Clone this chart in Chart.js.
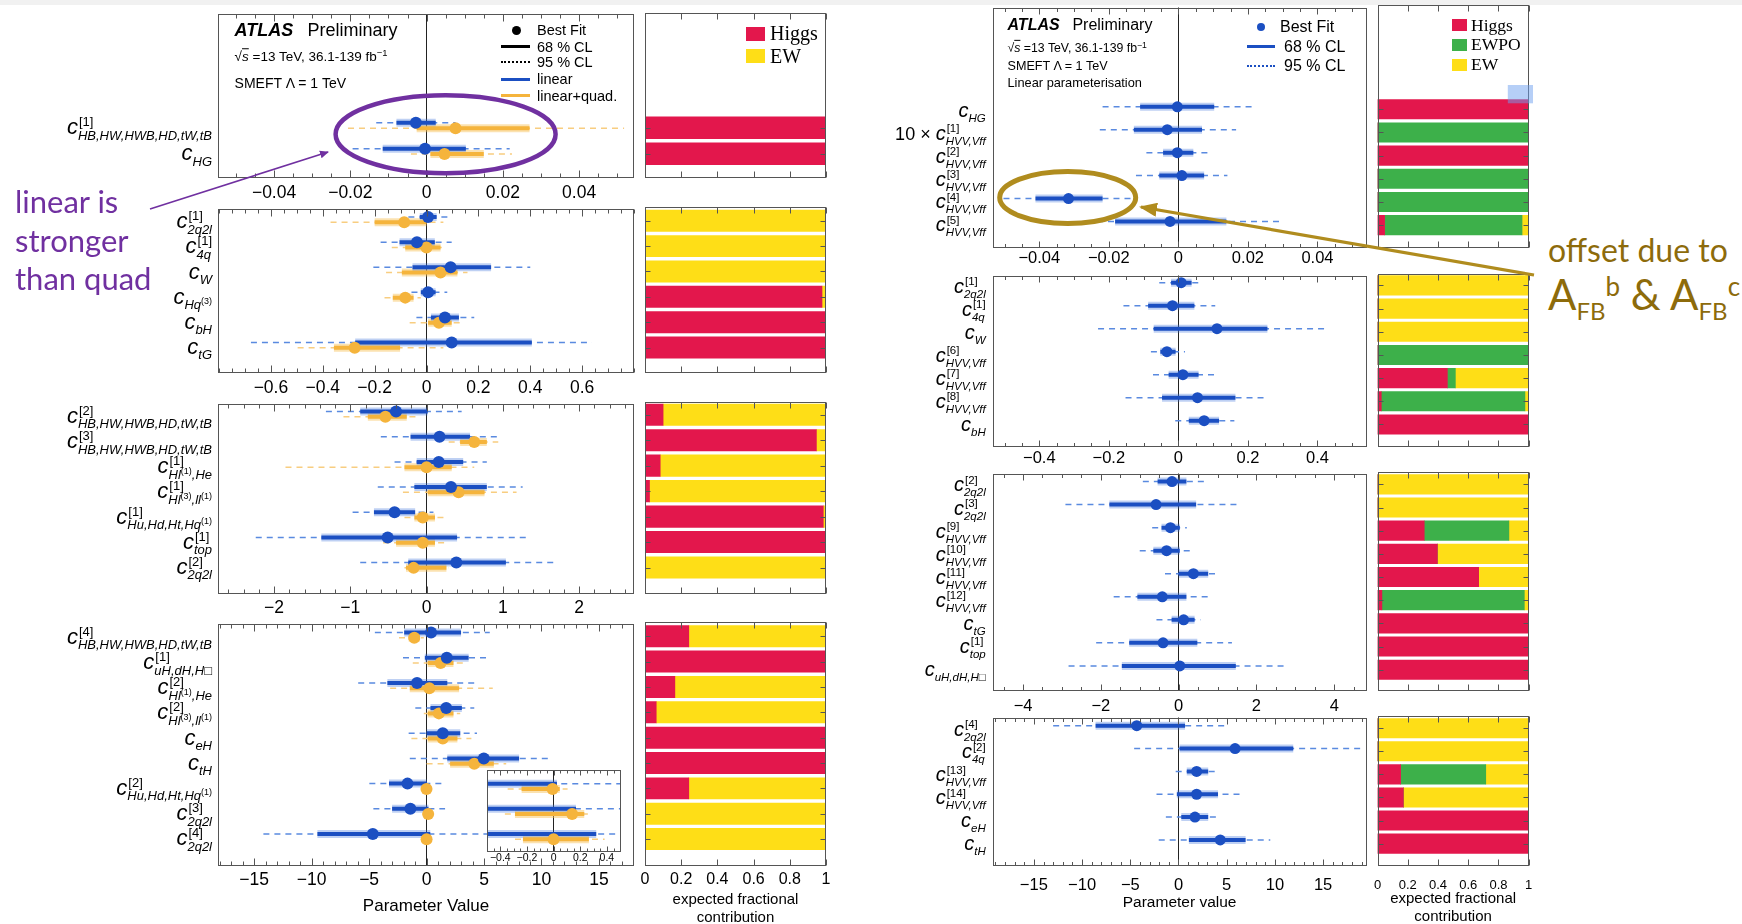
<!DOCTYPE html>
<html>
<head>
<meta charset="utf-8">
<title>SMEFT fit summary</title>
<script src="https://cdn.jsdelivr.net/npm/chart.js@4.4.1/dist/chart.umd.min.js"></script>
<style>
  html, body { margin: 0; padding: 0; background: #fff; }
  body { position: relative; width: 1742px; height: 924px; overflow: hidden; font-family: 'Liberation Sans', Arial, sans-serif; color: #000; }
  canvas { position: absolute; }
  .t { position: absolute; line-height: 1; white-space: nowrap; transform: translateY(-50%); z-index: 5; }
  .m { position: absolute; z-index: 5; }
  .serif { font-family: 'Liberation Serif', 'Times New Roman', serif; }
  .sp { position: relative; top: -0.45em; font-size: 0.7em; }
  .ov { text-decoration: overline; font-style: italic; }
  #topband { position: absolute; left: 0; top: 0; width: 1742px; height: 5px; background: #f1f1f1; }
  svg { position: absolute; left: 0; top: 0; z-index: 10; }
  .note { position: absolute; font-family: Lato, 'Open Sans', sans-serif; white-space: nowrap; z-index: 10; }
</style>
</head>
<body>
<div id="topband"></div>

<!-- left column, top panel header -->
<div class="t" style="left:234.6px;top:30px;font-size:18px;font-weight:bold;font-style:italic">ATLAS</div>
<div class="t" style="left:307.5px;top:30px;font-size:18px">Preliminary</div>
<div class="t" style="left:234.6px;top:56.7px;font-size:13.5px">√<span class="ov">s</span> =13 TeV, 36.1-139 fb<span class="sp">−1</span></div>
<div class="t" style="left:234.6px;top:82.7px;font-size:14px">SMEFT Λ = 1 TeV</div>
<div class="m" style="left:512.3px;top:25.5px;width:9px;height:9px;border-radius:50%;background:#000"></div>
<div class="m" style="left:501px;top:45.2px;width:29px;height:3px;background:#000"></div>
<div class="m" style="left:501px;top:61.3px;width:29px;border-top:2px dotted #000"></div>
<div class="m" style="left:501px;top:77.5px;width:29px;height:3px;background:#1b4fc2"></div>
<div class="m" style="left:501px;top:94.2px;width:29px;height:3px;background:#f5b43c"></div>
<div class="t" style="left:537px;top:30px;font-size:14.5px">Best Fit</div>
<div class="t" style="left:537px;top:46.7px;font-size:14.5px">68 % CL</div>
<div class="t" style="left:537px;top:62.3px;font-size:14.5px">95 % CL</div>
<div class="t" style="left:537px;top:79px;font-size:14.5px">linear</div>
<div class="t" style="left:537px;top:95.7px;font-size:14.5px">linear+quad.</div>
<div class="m" style="left:746px;top:26.5px;width:19px;height:14px;background:#e3174c"></div>
<div class="m" style="left:746px;top:49px;width:19px;height:14px;background:#fede17"></div>
<div class="t serif" style="left:770px;top:33.3px;font-size:20px">Higgs</div>
<div class="t serif" style="left:770px;top:56px;font-size:20px">EW</div>

<!-- right column, top panel header -->
<div class="t" style="left:1007.5px;top:25px;font-size:16px;font-weight:bold;font-style:italic">ATLAS</div>
<div class="t" style="left:1072.4px;top:25px;font-size:16px">Preliminary</div>
<div class="t" style="left:1007.5px;top:47.7px;font-size:12.3px">√<span class="ov">s</span> =13 TeV, 36.1-139 fb<span class="sp">−1</span></div>
<div class="t" style="left:1007.5px;top:66px;font-size:12.6px">SMEFT Λ = 1 TeV</div>
<div class="t" style="left:1007.5px;top:83.3px;font-size:12.8px">Linear parameterisation</div>
<div class="m" style="left:1257px;top:22.7px;width:8px;height:8px;border-radius:50%;background:#1b4fc2"></div>
<div class="m" style="left:1247px;top:45.2px;width:28px;height:3px;background:#1b4fc2"></div>
<div class="m" style="left:1247px;top:64.7px;width:28px;border-top:2px dotted #1b4fc2"></div>
<div class="t" style="left:1280px;top:26.7px;font-size:16px">Best Fit</div>
<div class="t" style="left:1284px;top:46.7px;font-size:16px">68 % CL</div>
<div class="t" style="left:1284px;top:65.7px;font-size:16px">95 % CL</div>
<div class="m" style="left:1451.7px;top:19px;width:15.5px;height:12px;background:#e3174c"></div>
<div class="m" style="left:1451.7px;top:39.3px;width:15.5px;height:12px;background:#3db04a"></div>
<div class="m" style="left:1451.7px;top:59.3px;width:15.5px;height:12px;background:#fede17"></div>
<div class="t serif" style="left:1471px;top:26px;font-size:17.5px">Higgs</div>
<div class="t serif" style="left:1471px;top:45px;font-size:17.5px">EWPO</div>
<div class="t serif" style="left:1471px;top:65px;font-size:17.5px">EW</div>

<!-- slide annotations -->
<div class="note" style="left:15px;top:182px;font-size:31px;line-height:38.5px;color:#7030a0">linear is<br>stronger<br>than quad</div>
<div class="note" style="left:1548px;top:234px;font-size:32px;line-height:1;color:#8d6b0b">offset due to</div>
<div class="note" style="left:1548px;top:273px;font-size:42px;line-height:1;color:#8d6b0b">A<span style="font-size:24px;position:relative;top:10px">FB</span><span style="font-size:26px;position:relative;top:-14px">b</span> &amp; A<span style="font-size:24px;position:relative;top:10px">FB</span><span style="font-size:26px;position:relative;top:-14px">c</span></div>
<svg width="1742" height="924">
  <defs>
    <marker id="ap" markerWidth="10" markerHeight="10" refX="8" refY="5" orient="auto" markerUnits="userSpaceOnUse"><path d="M0,1 L9,5 L0,9 z" fill="#7030a0"/></marker>
    <marker id="ag" markerWidth="18" markerHeight="14" refX="16" refY="7" orient="auto" markerUnits="userSpaceOnUse"><path d="M0,0 L18,7 L0,14 z" fill="#b08c1e"/></marker>
  </defs>
  <ellipse cx="445.6" cy="134.2" rx="110" ry="39" fill="none" stroke="#7030a0" stroke-width="4.5"/>
  <line x1="150" y1="209" x2="328" y2="152" stroke="#7030a0" stroke-width="1.6" marker-end="url(#ap)"/>
  <ellipse cx="1067.7" cy="197.5" rx="68" ry="26" fill="none" stroke="#b08c1e" stroke-width="5"/>
  <line x1="1534" y1="275" x2="1141" y2="207" stroke="#b08c1e" stroke-width="3.2" marker-end="url(#ag)"/>
  <rect x="1507.8" y="85" width="25.2" height="18.3" fill="rgba(110,160,240,0.5)"/>
</svg>

<script>
// ---------- data ----------
// each row: [best fit, 68% low, 68% high, 95% low, 95% high]
const HB = 'HB,HW,HWB,HD,tW,tB';
const HVV = 'HVV,Vff';

// left column: linear (blue) and linear+quadratic (orange)
const L1_LABELS = [{ sup: '[1]', sub: HB }, { sub: 'HG' }];
const L1_LIN = [[-0.0028, -0.0079, 0.0024, -0.0132, 0.0076], [-0.0004, -0.0115, 0.0103, -0.0194, 0.0218]];
const L1_QUAD = [[0.0076, -0.0026, 0.027, -0.0206, 0.0518], [0.0047, 0.001, 0.015, -0.0041, 0.0224]];
const L1_HIGGS = [1, 1];
const L1_EW = [0, 0];

const L2_LABELS = [{ sup: '[1]', sub: '2q2l' }, { sup: '[1]', sub: '4q' }, { sub: 'W' }, { sub: 'Hq^{(3)}' }, { sub: 'bH' }, { sub: 'tG' }];
const L2_LIN = [
  [0.006, -0.026, 0.039, -0.07, 0.082],
  [-0.037, -0.104, 0.032, -0.177, 0.097],
  [0.093, -0.054, 0.249, -0.205, 0.40],
  [0.006, -0.022, 0.035, -0.058, 0.08],
  [0.071, 0.017, 0.125, -0.039, 0.184],
  [0.097, -0.275, 0.406, -0.677, 0.638]
];
const L2_QUAD = [
  [-0.086, -0.20, 0.0, -0.37, 0.065],
  [0.0, -0.082, 0.054, -0.134, 0.065],
  [0.054, -0.095, 0.119, -0.156, 0.158],
  [-0.082, -0.13, -0.05, -0.162, -0.022],
  [0.048, 0.006, 0.097, -0.065, 0.13],
  [-0.277, -0.357, -0.102, -0.497, 0.065]
];
const L2_HIGGS = [0, 0, 0, 0.978, 1, 1];
const L2_EW = [1, 1, 1, 0.022, 0, 0];

const L3_LABELS = [
  { sup: '[2]', sub: HB }, { sup: '[3]', sub: HB }, { sup: '[1]', sub: 'Hl^{(1)},He' },
  { sup: '[1]', sub: 'Hl^{(3)},ll^{(1)}' }, { sup: '[1]', sub: 'Hu,Hd,Ht,Hq^{(1)}' },
  { sup: '[1]', sub: 'top' }, { sup: '[2]', sub: '2q2l' }
];
const L3_LIN = [
  [-0.40, -0.87, 0.015, -1.32, 0.46],
  [0.17, -0.21, 0.57, -0.60, 0.97],
  [0.16, -0.13, 0.48, -0.42, 0.79],
  [0.32, -0.16, 0.79, -0.64, 1.26],
  [-0.42, -0.69, -0.15, -0.97, 0.09],
  [-0.51, -1.38, 0.40, -2.24, 1.34],
  [0.39, -0.24, 1.04, -0.87, 1.69]
];
const L3_QUAD = [
  [-0.54, -0.77, -0.26, -1.09, -0.11],
  [0.625, 0.44, 0.79, 0.29, 0.94],
  [0.0, -0.29, 0.33, -1.85, 0.625],
  [0.42, 0.015, 0.76, -0.31, 1.18],
  [-0.05, -0.16, 0.11, -0.29, 0.26],
  [-0.05, -0.40, 0.11, -0.57, 0.29],
  [-0.17, -0.27, 0.26, -0.29, 0.29]
];
const L3_HIGGS = [0.10, 0.947, 0.084, 0.025, 0.985, 1, 0];
const L3_EW = [0.90, 0.053, 0.916, 0.975, 0.015, 0, 1];

const L4_LABELS = [
  { sup: '[4]', sub: HB }, { sup: '[1]', sub: 'uH,dH,H□' }, { sup: '[2]', sub: 'Hl^{(1)},He' },
  { sup: '[2]', sub: 'Hl^{(3)},ll^{(1)}' }, { sub: 'eH' }, { sub: 'tH' },
  { sup: '[2]', sub: 'Hu,Hd,Ht,Hq^{(1)}' }, { sup: '[3]', sub: '2q2l' }, { sup: '[4]', sub: '2q2l' }
];
const L4_LIN = [
  [0.39, -1.95, 3.0, -4.5, 5.5],
  [1.76, -0.15, 3.66, -2.05, 5.6],
  [-0.83, -3.41, 1.8, -5.95, 4.4],
  [1.71, 0.34, 3.07, -0.98, 4.15],
  [1.41, 0.0, 2.93, -1.56, 4.39],
  [4.98, 1.8, 8.05, -1.46, 10.8],
  [-1.66, -3.27, 0.025, -4.98, 1.61],
  [-1.41, -3.0, 0.168, -4.63, 1.61],
  [-4.68, -9.5, 0.32, -14.2, 5.46]
];
const L4_QUAD = [
  [-1.07, -1.56, -0.59, -2.4, -0.24],
  [1.22, 0.1, 2.34, -1.2, 3.4],
  [0.24, -1.46, 2.83, -3.17, 5.76],
  [1.07, 0.1, 2.34, -0.24, 2.93],
  [1.41, 0.1, 2.68, -1.32, 3.9],
  [4.15, 2.05, 5.85, 0.0, 6.93],
  [-0.008, -0.24, 0.046, -0.345, 0.105],
  [0.139, -0.29, 0.23, -0.366, 0.286],
  [0.0, -0.23, 0.265, -0.29, 0.383]
];
const L4_HIGGS = [0.242, 1, 0.165, 0.062, 1, 1, 0.242, 0, 0];
const L4_EW = [0.758, 0, 0.835, 0.938, 0, 0, 0.758, 1, 1];

// right column: linear parameterisation only
const R1_LABELS = [{ sub: 'HG' }, { pre: '10 ×', sup: '[1]', sub: HVV }, { sup: '[2]', sub: HVV }, { sup: '[3]', sub: HVV }, { sup: '[4]', sub: HVV }, { sup: '[5]', sub: HVV }];
const R1_LIN = [
  [-0.0003, -0.011, 0.0103, -0.0218, 0.0213],
  [-0.0032, -0.0128, 0.0068, -0.0226, 0.0166],
  [-0.0003, -0.0044, 0.0043, -0.0092, 0.0087],
  [0.001, -0.0055, 0.0074, -0.0122, 0.0141],
  [-0.0316, -0.0411, -0.0218, -0.0503, -0.0128],
  [-0.0024, -0.0182, 0.0138, -0.0234, 0.0292]
];
const R1_HIGGS = [1, 0, 1, 0, 0, 0.047];
const R1_EWPO = [0, 1, 0, 1, 1, 0.909];
const R1_EW = [0, 0, 0, 0, 0, 0.044];

const R2_LABELS = [{ sup: '[1]', sub: '2q2l' }, { sup: '[1]', sub: '4q' }, { sub: 'W' }, { sup: '[6]', sub: HVV }, { sup: '[7]', sub: HVV }, { sup: '[8]', sub: HVV }, { sub: 'bH' }];
const R2_LIN = [
  [0.008, -0.021, 0.038, -0.055, 0.07],
  [-0.017, -0.087, 0.046, -0.158, 0.106],
  [0.111, -0.071, 0.256, -0.231, 0.422],
  [-0.033, -0.052, -0.008, -0.079, 0.019],
  [0.013, -0.028, 0.058, -0.073, 0.103],
  [0.055, -0.047, 0.164, -0.152, 0.256],
  [0.074, 0.03, 0.117, -0.009, 0.161]
];
const R2_HIGGS = [0, 0, 0, 0, 0.462, 0.025, 1];
const R2_EWPO = [0, 0, 0, 1, 0.053, 0.95, 0];
const R2_EW = [1, 1, 1, 0, 0.485, 0.025, 0];

const R3_LABELS = [
  { sup: '[2]', sub: '2q2l' }, { sup: '[3]', sub: '2q2l' }, { sup: '[9]', sub: HVV }, { sup: '[10]', sub: HVV },
  { sup: '[11]', sub: HVV }, { sup: '[12]', sub: HVV }, { sub: 'tG' }, { sup: '[1]', sub: 'top' }, { sub: 'uH,dH,H□' }
];
const R3_LIN = [
  [-0.17, -0.54, 0.2, -0.92, 0.66],
  [-0.58, -1.78, 0.45, -2.91, 1.51],
  [-0.21, -0.44, 0.03, -0.68, 0.21],
  [-0.31, -0.65, 0.03, -1.0, 0.35],
  [0.38, 0.0, 0.76, -0.35, 1.05],
  [-0.42, -1.06, 0.2, -1.67, 0.85],
  [0.13, -0.18, 0.41, -0.57, 0.57],
  [-0.4, -1.27, 0.48, -2.12, 1.37],
  [0.03, -1.46, 1.47, -2.83, 2.78]
];
const R3_HIGGS = [0, 0, 0.309, 0.396, 0.669, 0.029, 1, 1, 1];
const R3_EWPO = [0, 0, 0.56, 0, 0, 0.942, 0, 0, 0];
const R3_EW = [1, 1, 0.131, 0.604, 0.331, 0.029, 0, 0, 0];

const R4_LABELS = [{ sup: '[4]', sub: '2q2l' }, { sup: '[2]', sub: '4q' }, { sup: '[13]', sub: HVV }, { sup: '[14]', sub: HVV }, { sub: 'eH' }, { sub: 'tH' }];
const R4_LIN = [
  [-4.33, -8.6, 0.68, -13.0, 5.25],
  [5.87, 0.11, 11.9, -4.6, 19.2],
  [1.88, 0.86, 3.08, -0.29, 4.1],
  [1.88, -0.17, 4.1, -2.28, 6.39],
  [1.71, 0.29, 3.08, -1.31, 4.28],
  [4.33, 1.08, 6.96, -2.05, 9.52]
];
const R4_HIGGS = [0, 0, 0.153, 0.171, 1, 1];
const R4_EWPO = [0, 0, 0.563, 0, 0, 0];
const R4_EW = [1, 1, 0.284, 0.829, 0, 0];

// tick labels
const TICKS_SMALL = [-0.04, -0.02, 0, 0.02, 0.04];
const TICKS_06 = [-0.6, -0.4, -0.2, 0, 0.2, 0.4, 0.6];
const TICKS_04 = [-0.4, -0.2, 0, 0.2, 0.4];
const TICKS_2 = [-2, -1, 0, 1, 2];
const TICKS_4 = [-4, -2, 0, 2, 4];
const TICKS_15 = [-15, -10, -5, 0, 5, 10, 15];
const FRAC_TICKS = [0, 0.2, 0.4, 0.6, 0.8, 1];

// ---------- layout ----------
const FONT = "'Liberation Sans', Arial, Helvetica, sans-serif";
const BLUE = { line: '#1b4fc2', halo: 'rgba(70,120,220,0.35)', dash: '#5a8ae0' };
const ORANGE = { line: '#f5b43c', halo: 'rgba(246,190,80,0.45)', dash: '#f8cd80' };
const RED = '#e3174c', GREEN = '#3db04a', YELLOW = '#fede17';

const LX = { c0: 0, c1: 640, f0: 218, f1: 634 };
const LBX = { c0: 628, c1: 842, f0: 645, f1: 826 };
const RX = { c0: 880, c1: 1372, f0: 992.7, f1: 1366.5 };
const RBX = { c0: 1362, c1: 1544, f0: 1377.5, f1: 1528.7 };
const INX = { c0: 478, c1: 630, f0: 487, f1: 621 };

const V = {
  L1: { c0: 8, c1: 205, f0: 12.7, f1: 178.3, yMin: -4.43, yMax: 1.94, pad: 4.2 },
  L2: { c0: 203, c1: 400, f0: 207.3, f1: 372.7, yMin: -0.53, yMax: 5.99, pad: 4.8 },
  L3: { c0: 398, c1: 620, f0: 401.7, f1: 594.3, yMin: -0.51, yMax: 7.05, pad: 3.5 },
  L4: { c0: 618, c1: 940, f0: 622.3, f1: 865.7, yMin: -0.55, yMax: 9.05, pad: 3.8, bpad: 4.7 },
  R1: { c0: 2, c1: 270, f0: 5, f1: 248.3, yMin: -4.5, yMax: 6.0, pad: 0.1 },
  R2: { c0: 270, c1: 470, f0: 274.3, f1: 446.7, yMin: -0.48, yMax: 6.96, pad: 1.7 },
  R3: { c0: 468, c1: 720, f0: 472.3, f1: 691, yMin: -0.52, yMax: 8.92, pad: 5.8 },
  R4: { c0: 712, c1: 940, f0: 716, f1: 866, yMin: -0.53, yMax: 5.97, pad: 9.1, bpad: 11.2 },
  IN: { c0: 764, c1: 872, f0: 769.3, f1: 851.7, yMin: 5.243, yMax: 8.5, pad: 0 }
};

const SIDE = {
  L: { tick: 17.5, linOff: -0.21, ptR: 6, gap: 6, major: 7, minorLen: 4,
       label: { c: 22, s: 13, ss: 9, p: 18, up: 8, down: 5.5, ssUp: 5 } },
  R: { tick: 16.5, linOff: -0.17, ptR: 5.5, gap: 7, major: 6, minorLen: 3.5,
       label: { c: 20, s: 11.5, ss: 8, p: 18, up: 7.5, down: 5, ssUp: 4.5 } }
};

Chart.defaults.font.family = FONT;
Chart.defaults.color = '#000';

const fmtTick = v => (v < 0 ? '\u2212' : '') + String(Math.abs(v));

function drawCoef(ctx, lab, xr, yb, st) {
  const parts = lab.sub ? lab.sub.split(/\^\{([^}]*)\}/) : [];
  const subFont = k => (k % 2 ? st.ss + 'px ' : 'italic ' + st.s + 'px ') + FONT;
  let wSub = 0;
  parts.forEach((p, k) => { ctx.font = subFont(k); wSub += ctx.measureText(p).width; });
  ctx.font = st.s + 'px ' + FONT;
  const wSup = lab.sup ? ctx.measureText(lab.sup).width + 1 : 0;
  ctx.font = 'italic ' + st.c + 'px ' + FONT;
  const wc = ctx.measureText('c').width;
  const x0 = xr - Math.max(wSub, wSup) - wc;
  ctx.fillStyle = '#000';
  ctx.textAlign = 'left';
  ctx.textBaseline = 'alphabetic';
  ctx.fillText('c', x0, yb);
  if (lab.pre) {
    ctx.font = st.p + 'px ' + FONT;
    ctx.fillText(lab.pre, x0 - ctx.measureText(lab.pre + ' ').width, yb);
  }
  if (lab.sup) {
    ctx.font = st.s + 'px ' + FONT;
    ctx.fillText(lab.sup, x0 + wc + 1, yb - st.up);
  }
  let x = x0 + wc;
  parts.forEach((p, k) => {
    ctx.font = subFont(k);
    ctx.fillText(p, x, yb + st.down - (k % 2 ? st.ssUp : 0));
    x += ctx.measureText(p).width;
  });
}

// frame, inward ticks and coefficient names
const atlasDeco = {
  id: 'atlasDeco',
  beforeDraw(chart, args, o) {
    if (!o || !o.fill) return;
    const a = chart.chartArea, ctx = chart.ctx;
    ctx.save();
    ctx.fillStyle = o.fill;
    ctx.fillRect(a.left, a.top, a.right - a.left, a.bottom - a.top);
    ctx.restore();
  },
  afterDraw(chart, args, o) {
    if (!o || !o.on) return;
    const a = chart.chartArea, ctx = chart.ctx, xs = chart.scales.x, ys = chart.scales.y;
    const L = Math.round(a.left) + 0.5, R = Math.round(a.right) - 0.5;
    const T = Math.round(a.top) + 0.5, B = Math.round(a.bottom) - 0.5;
    ctx.save();
    ctx.strokeStyle = '#555';
    ctx.lineWidth = 1;
    ctx.beginPath();
    const tick = (v, len) => {
      const px = Math.round(xs.getPixelForValue(v)) + 0.5;
      ctx.moveTo(px, B); ctx.lineTo(px, B - len);
      ctx.moveTo(px, T); ctx.lineTo(px, T + len);
    };
    if (o.minor) {
      for (let k = Math.ceil(xs.min / o.minor - 1e-9); k * o.minor <= xs.max + 1e-12; k++) tick(k * o.minor, o.minorLen);
    }
    (o.ticks || []).forEach(v => tick(v, o.major));
    for (let i = 0; i < (o.rows || 0); i++) {
      const py = Math.round(ys.getPixelForValue(i)) + 0.5;
      ctx.moveTo(L, py); ctx.lineTo(L + 5, py);
      ctx.moveTo(R, py); ctx.lineTo(R - 5, py);
    }
    ctx.stroke();
    ctx.strokeRect(L, T, R - L, B - T);
    if (o.labels) {
      o.labels.forEach((lab, i) => drawCoef(ctx, lab, a.left - o.gap, ys.getPixelForValue(i) + 6, o.style));
    }
    ctx.restore();
  }
};
Chart.register(atlasDeco);

function makeCanvas(xl, yl) {
  const c = document.createElement('canvas');
  c.width = Math.round(xl.c1 - xl.c0);
  c.height = Math.round(yl.c1 - yl.c0);
  c.style.left = xl.c0 + 'px';
  c.style.top = yl.c0 + 'px';
  c.style.width = c.width + 'px';
  c.style.height = c.height + 'px';
  document.body.appendChild(c);
  return c;
}

function forestDatasets(rows, base, yOff, c, z, ptR) {
  const sets = [];
  rows.forEach((r, i) => {
    const y = base + i + yOff;
    sets.push({ data: [{ x: r[3], y }, { x: r[4], y }], showLine: true, borderColor: c.dash, borderWidth: 1.5, borderDash: [6, 5], pointRadius: 0, order: 10 + z });
    sets.push({ data: [{ x: r[1], y }, { x: r[2], y }], showLine: true, borderColor: c.halo, borderWidth: 8, pointRadius: 0, order: 6 + z });
    sets.push({ data: [{ x: r[1], y }, { x: r[2], y }], showLine: true, borderColor: c.line, borderWidth: 4, pointRadius: 0, order: 4 + z });
  });
  sets.push({ data: rows.map((r, i) => ({ x: r[0], y: base + i + yOff })), pointRadius: ptR, pointBackgroundColor: c.line, pointBorderWidth: 0, order: z });
  return sets;
}

function forestChart(xl, yl, side, o) {
  const s = SIDE[side];
  const cv = makeCanvas(xl, yl);
  const base = o.base || 0;
  let datasets = forestDatasets(o.lin, base, s.linOff, BLUE, 0, s.ptR);
  if (o.quad) datasets = datasets.concat(forestDatasets(o.quad, base, 0, ORANGE, 1, s.ptR));
  if (o.clip) datasets.forEach(d => { d.clip = 0; });
  const tickSize = o.tickSize || s.tick;
  new Chart(cv, {
    type: 'scatter',
    data: { datasets },
    options: {
      responsive: false,
      animation: false,
      events: [],
      layout: { padding: { left: xl.f0 - xl.c0, right: xl.c1 - xl.f1, top: yl.f0 - yl.c0, bottom: 0 } },
      plugins: {
        legend: { display: false },
        tooltip: { enabled: false },
        atlasDeco: { on: true, fill: o.fill, ticks: o.ticks, minor: o.minor, major: o.major || s.major, minorLen: o.minorLen || s.minorLen,
                     labels: o.labels, gap: s.gap, style: s.label }
      },
      scales: {
        x: {
          type: 'linear', bounds: 'data', min: o.range[0], max: o.range[1],
          border: { display: false },
          grid: { drawTicks: false, lineWidth: 1, color: c => (c.tick && c.tick.value === 0 ? '#222' : 'rgba(0,0,0,0)') },
          ticks: { autoSkip: false, maxRotation: 0, minRotation: 0, padding: yl.pad, font: { size: tickSize }, color: '#000', callback: v => fmtTick(v) },
          afterBuildTicks: ax => { ax.ticks = o.ticks.map(v => ({ value: v })); },
          afterFit: sc => { sc.height = yl.c1 - yl.f1; },
          title: o.title ? { display: true, text: o.title.text, color: '#000', font: { size: o.title.size }, padding: { top: 0, bottom: o.title.pad } } : { display: false }
        },
        y: { type: 'linear', bounds: 'data', display: false, reverse: true, min: yl.yMin, max: yl.yMax }
      }
    }
  });
}

function fracChart(xl, yl, comps, o) {
  const cv = makeCanvas(xl, yl);
  const rowPx = (yl.f1 - yl.f0) / (yl.yMax - yl.yMin);
  const datasets = comps.map(c => ({
    label: c.name,
    data: c.vals.map((v, i) => ({ x: v, y: i })),
    backgroundColor: c.color,
    borderWidth: 0,
    barThickness: rowPx * 0.84
  }));
  const showX = !!o.labels;
  const xScale = {
    type: 'linear', bounds: 'data', min: 0, max: 1, stacked: true, display: showX,
    border: { display: false },
    grid: { display: false, drawTicks: false },
    ticks: { autoSkip: false, maxRotation: 0, padding: yl.bpad || 0, font: { size: o.tickSize || 16 }, color: '#000', callback: v => String(v) },
    afterBuildTicks: ax => { ax.ticks = FRAC_TICKS.map(v => ({ value: v })); },
    title: o.title ? { display: true, text: ['expected fractional', 'contribution'], color: '#000', font: { size: 15, lineHeight: 1.18 }, padding: { top: 0, bottom: o.title } } : { display: false }
  };
  // only a visible axis takes room below the frame
  if (showX) xScale.afterFit = sc => { sc.height = yl.c1 - yl.f1; };
  new Chart(cv, {
    type: 'bar',
    data: { datasets },
    options: {
      indexAxis: 'y',
      responsive: false,
      animation: false,
      events: [],
      layout: { padding: { left: xl.f0 - xl.c0, right: xl.c1 - xl.f1, top: yl.f0 - yl.c0, bottom: showX ? 0 : yl.c1 - yl.f1 } },
      plugins: {
        legend: { display: false },
        tooltip: { enabled: false },
        atlasDeco: { on: true, ticks: FRAC_TICKS, major: 6, rows: comps[0].vals.length }
      },
      scales: {
        x: xScale,
        y: { type: 'linear', bounds: 'data', display: false, reverse: true, stacked: true, offset: false, grid: { offset: false }, min: yl.yMin, max: yl.yMax }
      }
    }
  });
}

// ---------- left column ----------
forestChart(LX, V.L1, 'L', { lin: L1_LIN, quad: L1_QUAD, labels: L1_LABELS, ticks: TICKS_SMALL, minor: 0.005, range: [-0.0547, 0.0544] });
forestChart(LX, V.L2, 'L', { lin: L2_LIN, quad: L2_QUAD, labels: L2_LABELS, ticks: TICKS_06, minor: 0.05, range: [-0.804, 0.80] });
forestChart(LX, V.L3, 'L', { lin: L3_LIN, quad: L3_QUAD, labels: L3_LABELS, ticks: TICKS_2, minor: 0.2, range: [-2.735, 2.72] });
forestChart(LX, V.L4, 'L', { lin: L4_LIN, quad: L4_QUAD, labels: L4_LABELS, ticks: TICKS_15, minor: 1, range: [-18.15, 18.05],
  title: { text: 'Parameter Value', size: 17, pad: 23 } });
// zoomed inset of the last three rows
forestChart(INX, V.IN, 'L', { lin: L4_LIN.slice(6), quad: L4_QUAD.slice(6), base: 6, ticks: TICKS_04, minor: 0.05, range: [-0.5, 0.506],
  tickSize: 10.5, major: 5, minorLen: 3, fill: '#fff', clip: true });

fracChart(LBX, V.L1, [{ name: 'Higgs', vals: L1_HIGGS, color: RED }, { name: 'EW', vals: L1_EW, color: YELLOW }], {});
fracChart(LBX, V.L2, [{ name: 'Higgs', vals: L2_HIGGS, color: RED }, { name: 'EW', vals: L2_EW, color: YELLOW }], {});
fracChart(LBX, V.L3, [{ name: 'Higgs', vals: L3_HIGGS, color: RED }, { name: 'EW', vals: L3_EW, color: YELLOW }], {});
fracChart(LBX, V.L4, [{ name: 'Higgs', vals: L4_HIGGS, color: RED }, { name: 'EW', vals: L4_EW, color: YELLOW }], { labels: true, tickSize: 16, title: 13.5 });

// ---------- right column ----------
forestChart(RX, V.R1, 'R', { lin: R1_LIN, labels: R1_LABELS, ticks: TICKS_SMALL, minor: 0.005, range: [-0.0534, 0.0541] });
forestChart(RX, V.R2, 'R', { lin: R2_LIN, labels: R2_LABELS, ticks: TICKS_04, minor: 0.05, range: [-0.534, 0.541] });
forestChart(RX, V.R3, 'R', { lin: R3_LIN, labels: R3_LABELS, ticks: TICKS_4, minor: 0.5, range: [-4.78, 4.83] });
forestChart(RX, V.R4, 'R', { lin: R4_LIN, labels: R4_LABELS, ticks: TICKS_15, minor: 1, range: [-19.27, 19.5],
  title: { text: 'Parameter value', size: 15.5, pad: 28 } });

fracChart(RBX, V.R1, [{ name: 'Higgs', vals: R1_HIGGS, color: RED }, { name: 'EWPO', vals: R1_EWPO, color: GREEN }, { name: 'EW', vals: R1_EW, color: YELLOW }], {});
fracChart(RBX, V.R2, [{ name: 'Higgs', vals: R2_HIGGS, color: RED }, { name: 'EWPO', vals: R2_EWPO, color: GREEN }, { name: 'EW', vals: R2_EW, color: YELLOW }], {});
fracChart(RBX, V.R3, [{ name: 'Higgs', vals: R3_HIGGS, color: RED }, { name: 'EWPO', vals: R3_EWPO, color: GREEN }, { name: 'EW', vals: R3_EW, color: YELLOW }], {});
fracChart(RBX, V.R4, [{ name: 'Higgs', vals: R4_HIGGS, color: RED }, { name: 'EWPO', vals: R4_EWPO, color: GREEN }, { name: 'EW', vals: R4_EW, color: YELLOW }], { labels: true, tickSize: 13, title: 14.2 });
</script>
</body>
</html>
